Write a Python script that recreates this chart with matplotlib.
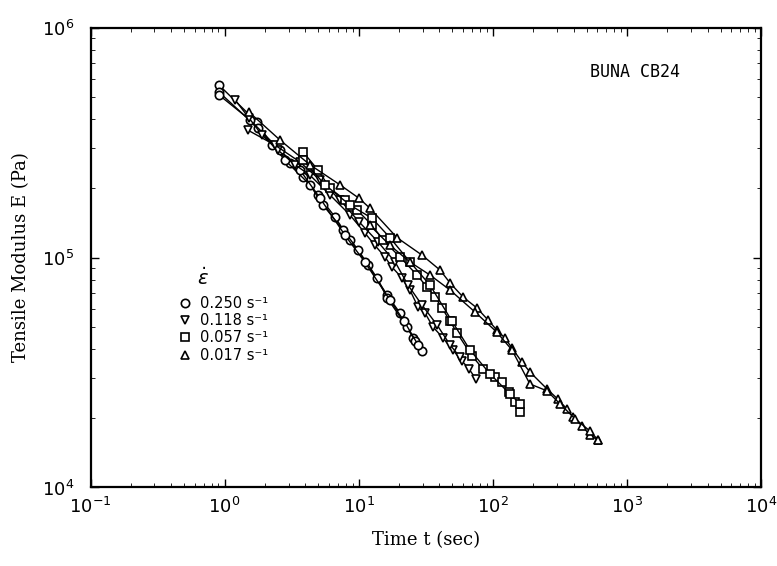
import matplotlib.pyplot as plt
from matplotlib.lines import Line2D

# strain rates (s^-1) and their markers
rates = ["0.250", "0.118", "0.057", "0.017"]
markers = ["o", "v", "s", "^"]

# 0.250 s^-1, three runs
t_250a = [0.908, 1.74, 2.26, 3.07, 3.84, 4.97, 6.66, 8.61, 11.7, 16.3, 20.3, 25.4, 29.6]
E_250a = [562e3, 388e3, 308e3, 258e3, 224e3, 187e3, 150e3, 119e3, 92.7e3, 68.7e3, 57.4e3, 44.7e3, 39.2e3]
t_250b = [0.908, 1.77, 2.82, 4.33, 5.42, 7.64, 9.88, 13.7, 16.3, 22.9, 26.3]
E_250b = [524e3, 366e3, 265e3, 207e3, 169e3, 132e3, 108e3, 81.5e3, 66.7e3, 49.9e3, 43.4e3]
t_250c = [0.908, 1.55, 2.59, 3.65, 5.15, 7.90, 11.1, 17.1, 21.8, 27.7]
E_250c = [509e3, 396e3, 293e3, 240e3, 181e3, 125e3, 95.6e3, 65.3e3, 52.9e3, 41.7e3]

# 0.118 s^-1
t_118a = [1.20, 1.52, 1.90, 2.50, 3.35, 4.33, 6.11, 8.61, 11.1, 13.2, 15.7, 17.7, 21.0, 24.1,
          27.7, 31.2, 35.8, 42.5, 50.5, 58.9, 66.4, 74.9]
E_118a = [484e3, 404e3, 341e3, 293e3, 253e3, 228e3, 187e3, 153e3, 128e3, 113e3, 100.5e3, 90.9e3,
          81.5e3, 72.2e3, 60.9e3, 57.4e3, 49.9e3, 44.7e3, 39.6e3, 35.5e3, 32.8e3, 29.6e3]
t_118b = [1.49, 2.38, 3.65, 5.15, 7.25, 10.05, 13.9, 18.7, 23.3, 29.6, 38.4, 48.0, 56.9]
E_118b = [358e3, 308e3, 260e3, 217e3, 178e3, 143e3, 117e3, 95.6e3, 75.9e3, 62.2e3, 50.9e3, 41.7e3, 36.9e3]

# 0.057 s^-1
t_057a = [3.84, 4.97, 6.11, 7.90, 9.71, 12.6, 15.2, 20.3, 27.2, 32.3, 37.1, 41.8, 48.0, 54.1,
          70.0, 84.5, 104, 117, 132, 146, 160]
E_057a = [288e3, 240e3, 200e3, 178e3, 161e3, 138e3, 119e3, 100.5e3, 83.9e3, 74.4e3, 67.4e3, 60.3e3,
          52.9e3, 47.0e3, 37.3e3, 32.8e3, 30.2e3, 28.8e3, 26.0e3, 23.5e3, 21.3e3]
t_057b = [3.84, 5.61, 8.61, 12.6, 17.1, 24.1, 34.0, 49.6, 67.6, 95.3, 134, 160]
E_057b = [265e3, 207e3, 169e3, 148e3, 122e3, 95.6e3, 75.9e3, 52.9e3, 39.6e3, 31.2e3, 25.5e3, 23.1e3]

# 0.017 s^-1
t_017a = [1.52, 2.59, 4.33, 7.25, 10.05, 12.1, 19.3, 29.6, 40.4, 48.0, 59.9, 76.2, 92.1, 107, 123,
          139, 165, 189, 254, 306, 358, 396, 463, 531, 609]
E_017a = [429e3, 324e3, 253e3, 207e3, 181e3, 164e3, 122e3, 102.5e3, 88.2e3, 77.5e3, 67.4e3, 60.3e3,
          53.5e3, 48.4e3, 44.7e3, 40.4e3, 35.1e3, 31.8e3, 26.8e3, 24.2e3, 21.9e3, 20.3e3, 18.5e3,
          16.9e3, 16.1e3]
t_017b = [12.1, 17.1, 24.1, 34.0, 48.0, 73.7, 107, 139, 189, 254, 317, 410, 531, 609]
E_017b = [138e3, 113e3, 95.6e3, 83.9e3, 72.2e3, 57.9e3, 47.4e3, 39.6e3, 28.2e3, 26.3e3, 23.1e3,
          19.9e3, 17.6e3, 16.1e3]

runs = [
    (t_250a, E_250a, "o"), (t_250b, E_250b, "o"), (t_250c, E_250c, "o"),
    (t_118a, E_118a, "v"), (t_118b, E_118b, "v"),
    (t_057a, E_057a, "s"), (t_057b, E_057b, "s"),
    (t_017a, E_017a, "^"), (t_017b, E_017b, "^"),
]

fig = plt.figure(figsize=(7.77, 5.66), dpi=100)
ax = fig.add_axes([0.1165, 0.1387, 0.8629, 0.8127])

mk = dict(markersize=6, markerfacecolor="white", markeredgecolor="black", markeredgewidth=1.2)
for t, E, m in runs:
    ax.plot(t, E, color="black", linewidth=1.0, marker=m, **mk)

ax.set_xscale("log")
ax.set_yscale("log")
ax.set_xlim(1e-1, 1e4)
ax.set_ylim(1e4, 1e6)
ax.set_xticks([1e-1, 1e0, 1e1, 1e2, 1e3, 1e4])
ax.set_yticks([1e4, 1e5, 1e6])

ax.tick_params(which="major", direction="in", length=6, width=1, top=True, right=True,
               labelsize=13)
ax.tick_params(which="minor", direction="in", length=3, width=0.6, top=True, right=True)
ax.tick_params(axis="y", which="major", pad=12)
ax.tick_params(axis="x", which="major", pad=7)
for s in ax.spines.values():
    s.set_linewidth(1.6)

ax.set_xlabel("Time t (sec)", family="DejaVu Serif", fontsize=13, labelpad=10)
ax.set_ylabel("Tensile Modulus E (Pa)", family="DejaVu Serif", fontsize=13, labelpad=8)

ax.text(0.745, 0.903, "BUNA CB24", transform=ax.transAxes, family="DejaVu Sans Mono",
        fontsize=12, va="center")

# legend
ax.text(0.168, 0.455, r"$\dot{\epsilon}$", transform=ax.transAxes, fontsize=14,
        ha="center", va="center")
handles = [Line2D([], [], linestyle="none", marker=m, **mk) for m in markers]
labels = [r + " s⁻¹" for r in rates]
ax.legend(handles, labels, loc="upper left", bbox_to_anchor=(0.1215, 0.432), frameon=False,
          borderpad=0, handlelength=0.8, handletextpad=0.6, labelspacing=0.15,
          prop={"family": "DejaVu Sans", "size": 10.5})

fig.savefig("out.png", dpi=100)
